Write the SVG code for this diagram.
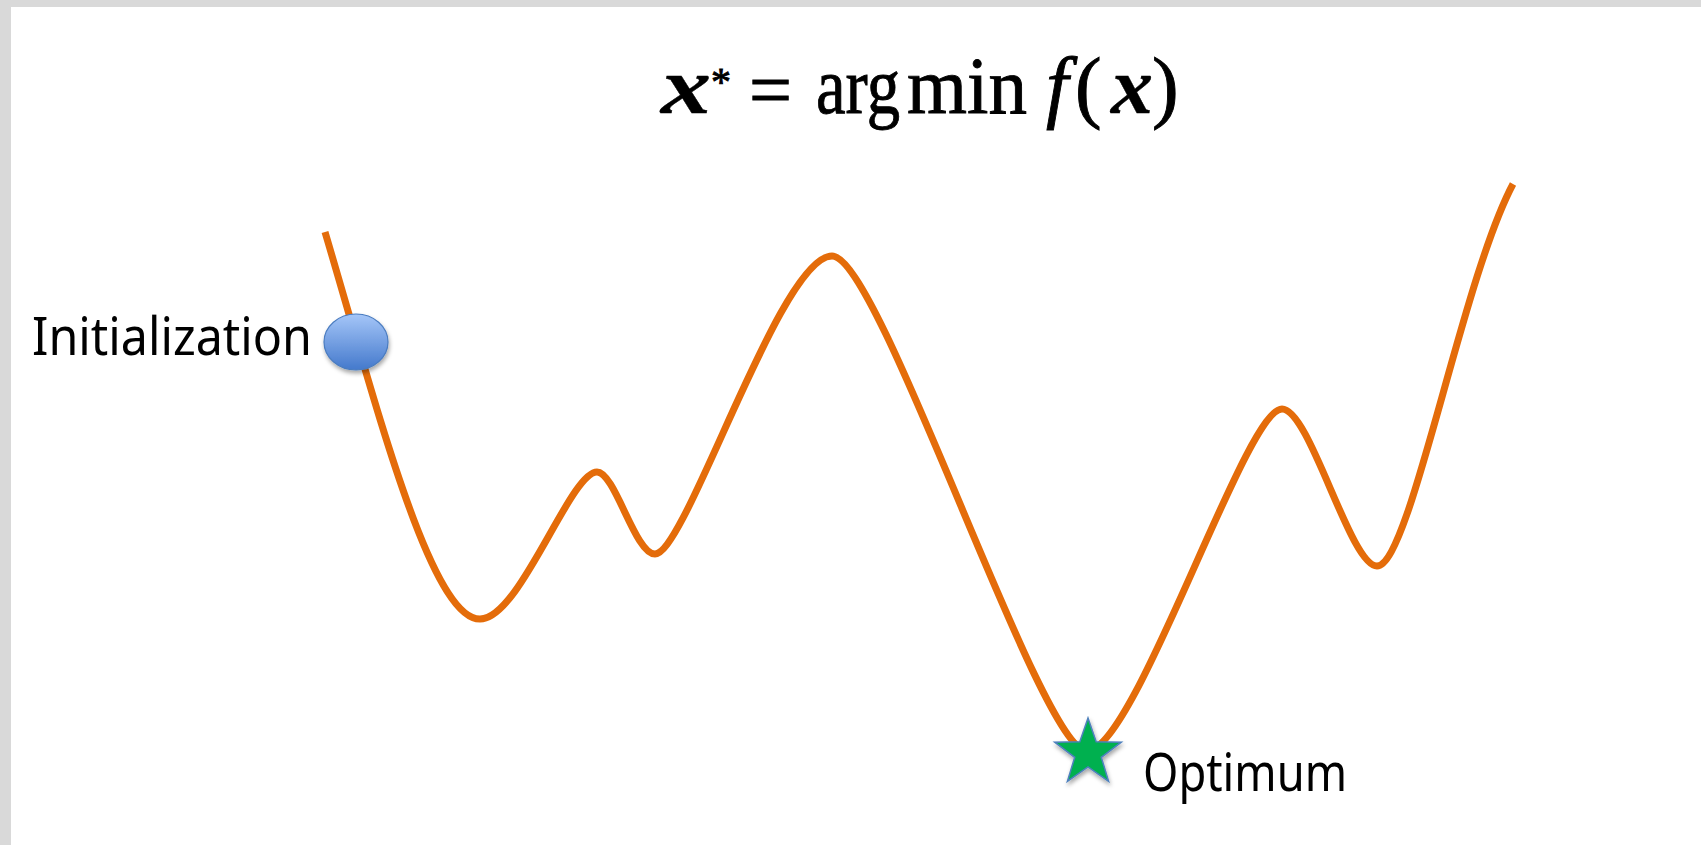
<svg xmlns="http://www.w3.org/2000/svg" width="1701" height="845" viewBox="0 0 1701 845">
<style>
.lbl{font-family:"Noto Sans","Open Sans","DejaVu Sans",sans-serif;font-size:52px;fill:#000}
.math{font-family:"Liberation Serif","Times New Roman",serif;font-size:80px;fill:#000;stroke:#000;stroke-width:0.9}
.bi{font-weight:bold;font-style:italic;stroke-width:0.4}
.curve{fill:none;stroke:#E46C0A;stroke-width:7;stroke-linecap:butt;stroke-linejoin:round}
</style>
<defs>
<linearGradient id="ballGrad" x1="0" y1="0" x2="0" y2="1">
<stop offset="0" stop-color="#A5C6F8"/>
<stop offset="1" stop-color="#4479CC"/>
</linearGradient>
<filter id="shadow" x="-30%" y="-30%" width="160%" height="170%">
<feDropShadow dx="1" dy="3" stdDeviation="2" flood-color="#000" flood-opacity="0.35"/>
</filter>
</defs>
<rect x="0" y="0" width="1701" height="845" fill="#D9D9D9"/>
<rect x="11" y="7" width="1690" height="838" fill="#FFFFFF"/>

<g id="title">
<text class="math bi" x="661" y="113" textLength="50" lengthAdjust="spacingAndGlyphs">x</text>
<text class="math" x="711" y="95" style="font-size:40px">*</text>
<text class="math" x="749" y="117" textLength="43" lengthAdjust="spacingAndGlyphs">=</text>
<text class="math" x="816" y="113" textLength="84" lengthAdjust="spacingAndGlyphs">arg</text>
<text class="math" x="907" y="113" textLength="120" lengthAdjust="spacingAndGlyphs">min</text>
<text class="math" x="1046" y="113" style="font-style:italic">f</text>
<text class="math" x="1075" y="113">(</text>
<text class="math bi" x="1111" y="113" textLength="42" lengthAdjust="spacingAndGlyphs">x</text>
<text class="math" x="1152" y="113">)</text>
</g>

<g id="connectors">
<path id="curve" class="curve" d="M325,232 C375,400 430,619 480,619 C520,619 570,472 597,472 C615,472 635,554 655,554 C686,554 780,256 832,256 C880,256 1040,751 1087,751 C1135,751 1245,409 1282,409 C1310,409 1350,566 1377,566 C1410,566 1461,282 1513,184"/>
</g>

<g id="initialization">
<ellipse cx="356" cy="342" rx="32" ry="28" fill="url(#ballGrad)" stroke="#4A7CC0" stroke-width="1.2" filter="url(#shadow)"/>
<text class="lbl" x="32" y="355" textLength="280" lengthAdjust="spacingAndGlyphs">Initialization</text>
</g>

<g id="optimum">
<polygon points="1088,718 1096.2,741.7 1121.3,742.2 1101.3,757.3 1108.6,781.3 1088,767 1067.4,781.3 1074.7,757.3 1054.7,742.2 1079.8,741.7" fill="#00B050" stroke="#4F81BD" stroke-width="1.5" stroke-linejoin="miter" filter="url(#shadow)"/>
<text class="lbl" x="1143" y="791" textLength="204" lengthAdjust="spacingAndGlyphs">Optimum</text>
</g>
</svg>
